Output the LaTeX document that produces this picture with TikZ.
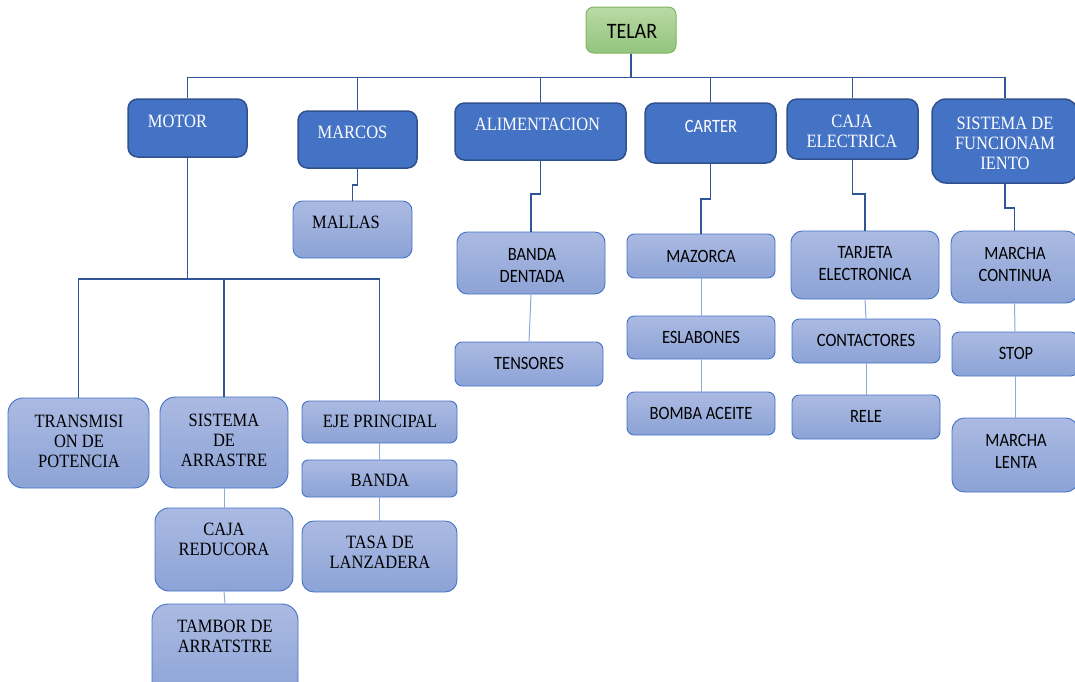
\documentclass[tikz,border=0pt]{standalone}
\usepackage{fontspec}
\setmainfont{Liberation Serif}
\newfontfamily\calib{Carlito}

\definecolor{blueA}{HTML}{4472C4}
\definecolor{bordA}{HTML}{2F528F}
\definecolor{lightT}{HTML}{ABBAE2}
\definecolor{lightB}{HTML}{8CA3D6}
\definecolor{lineD}{HTML}{2F5597}
\definecolor{lineL}{HTML}{8EA9DB}
\definecolor{greenT}{HTML}{B9DAA5}
\definecolor{greenB}{HTML}{93C47D}
\definecolor{greenD}{HTML}{7FB563}

\tikzset{
  lvlone/.style={draw=bordA, line width=1.5pt, fill=blueA, inner sep=0pt},
  lvltwo/.style={draw=blueA, line width=0.9pt, top color=lightT, bottom color=lightB, inner sep=0pt},
  rootbox/.style={draw=greenD, line width=1pt, top color=greenT, bottom color=greenB, inner sep=0pt},
  wser/.style={text=white, font=\fontsize{16.5}{17.6}\selectfont, align=center, yscale=1.14, inner sep=0pt},
  bser/.style={text=black, font=\fontsize{16.5}{17.6}\selectfont, align=center, yscale=1.14, inner sep=0pt},
  bsans/.style={text=black, font=\calib\fontsize{16.5}{19.3}\selectfont, align=center, yscale=1.14, inner sep=0pt},
  wsans/.style={text=white, font=\calib\fontsize{16.5}{19.3}\selectfont, align=center, yscale=1.14, inner sep=0pt},
  trunk/.style={draw=lineD, line width=1.8pt},
  twig/.style={draw=lineL, line width=1pt},
}

% \treebox{style}{x1}{y1}{x2}{y2}{name}: rounded box spanning the two corners
\newcommand\treebox[6]{%
  \pgfmathsetmacro\tbw{#4-#2}%
  \pgfmathsetmacro\tbh{#5-#3}%
  \pgfmathsetmacro\tbr{0.167*min(\tbw,\tbh)}%
  \node[#1, minimum width=\tbw pt, minimum height=\tbh pt, rounded corners=\tbr pt]
    (#6) at ({(#2+#4)/2},{(#3+#5)/2}) {};}

\begin{document}
\begin{tikzpicture}[x=1pt, y=-1pt]
\path[use as bounding box] (0,0) rectangle (1075,681);
\clip (0,0) rectangle (1075,681);

% root
\treebox{rootbox}{586}{7}{676}{53}{telar}
\node[text=black, font=\calib\fontsize{20}{22}\selectfont, yscale=1.1, inner sep=0pt] (telar-t) at (632,31) {TELAR};

% first level
\treebox{lvlone}{128}{99}{247}{157}{motor}
\treebox{lvlone}{298}{111}{417}{168}{marcos}
\treebox{lvlone}{455}{103}{626}{160}{alim}
\treebox{lvlone}{645}{103}{776}{163}{carter}
\treebox{lvlone}{787}{99}{918}{159}{caja}
\treebox{lvlone}{932}{99}{1078}{183}{sisf}

\node[wser] (motor-t) at (177.5,121.5) {MOTOR};
\node[wser] (marcos-t) at (352.5,132) {MARCOS};
\node[wser] (alim-t) at (537.5,124) {ALIMENTACION};
\node[wsans] (carter-t) at (711,126) {CARTER};
\node[wser] (caja-t) at (852,131.7) {CAJA\\ELECTRICA};
\node[wser] (sisf-t) at (1005,143) {SISTEMA DE\\FUNCIONAM\\IENTO};

% second level
\treebox{lvltwo}{293}{201}{412}{258}{mallas}
\treebox{lvltwo}{8}{398}{149}{488}{trans}
\treebox{lvltwo}{160}{397}{288}{488}{sisarr}
\treebox{lvltwo}{155}{508}{293}{591}{cajared}
\treebox{lvltwo}{152}{604}{298}{700}{tambor}
\treebox{lvltwo}{302}{401}{457}{443}{eje}
\treebox{lvltwo}{302}{460}{457}{497}{banda}
\treebox{lvltwo}{302}{521}{457}{592}{tasa}
\treebox{lvltwo}{457}{232}{605}{294}{bdent}
\treebox{lvltwo}{455}{342}{603}{386}{tens}
\treebox{lvltwo}{627}{234}{775}{278}{maz}
\treebox{lvltwo}{627}{316}{775}{359}{esl}
\treebox{lvltwo}{627}{392}{775}{435}{bomba}
\treebox{lvltwo}{791}{231}{939}{299}{tarj}
\treebox{lvltwo}{792}{319}{940}{363}{cont}
\treebox{lvltwo}{792}{395}{940}{439}{rele}
\treebox{lvltwo}{951}{231}{1078}{303}{mcont}
\treebox{lvltwo}{952}{332}{1078}{376}{stop}
\treebox{lvltwo}{952}{418}{1078}{492}{mlenta}

\node[bser] (mallas-t) at (346,222) {MALLAS};
\node[bser] (trans-t) at (79,441) {TRANSMISI\\ON DE\\POTENCIA};
\node[bser] (sisarr-t) at (224,440.6) {SISTEMA\\DE\\ARRASTRE};
\node[bser] (cajared-t) at (224,539.6) {CAJA\\REDUCORA};
\node[bser] (tambor-t) at (225,636) {TAMBOR DE\\ARRATSTRE};
\node[bser] (eje-t) at (380,421) {EJE PRINCIPAL};
\node[bser] (banda-t) at (380,480.5) {BANDA};
\node[bser] (tasa-t) at (380,552.5) {TASA DE\\LANZADERA};
\node[bsans] (bdent-t) at (532,265) {BANDA\\DENTADA};
\node[bsans] (tens-t) at (529,363) {TENSORES};
\node[bsans] (maz-t) at (701,256) {MAZORCA};
\node[bsans] (esl-t) at (701,337) {ESLABONES};
\node[bsans] (bomba-t) at (701,413) {BOMBA ACEITE};
\node[bsans] (tarj-t) at (865,264) {TARJETA\\ELECTRONICA};
\node[bsans] (cont-t) at (866,340) {CONTACTORES};
\node[bsans] (rele-t) at (866,416) {RELE};
\node[bsans] (mcont-t) at (1015,264.5) {MARCHA\\CONTINUA};
\node[bsans] (stop-t) at (1016,353) {STOP};
\node[bsans] (mlenta-t) at (1016,451) {MARCHA\\LENTA};

% root to first level
\foreach \c in {motor,marcos,alim,carter,caja,sisf}
  \draw[trunk] (telar.south) -- ++(0,24) -| (\c.north);

% first level to their parts
\foreach \c in {trans,sisarr,eje}
  \draw[trunk] (motor.south) -- ++(0,121) -| (\c.north);
\draw[trunk] (marcos.south) -- ++(0,16) -| (mallas.north);
\draw[trunk] (alim.south) -- ++(0,33) -| (bdent.north);
\draw[trunk] (carter.south) -- ++(0,35) -| (maz.north);
\draw[trunk] (caja.south) -- ++(0,34) -| (tarj.north);
\draw[trunk] (sisf.south) -- ++(0,24) -| (mcont.north);

% chains of parts
\draw[twig] (sisarr.south) -- (cajared.north);
\draw[twig] (cajared.south) -- (tambor.north);
\draw[twig] (eje.south) -- (banda.north);
\draw[twig] (banda.south) -- (tasa.north);
\draw[twig] (bdent.south) -- (tens.north);
\draw[twig] (maz.south) -- (esl.north);
\draw[twig] (esl.south) -- (bomba.north);
\draw[twig] (tarj.south) -- (cont.north);
\draw[twig] (cont.south) -- (rele.north);
\draw[twig] (mcont.south) -- (stop.north);
\draw[twig] (stop.south) -- (mlenta.north);
\end{tikzpicture}
\end{document}
